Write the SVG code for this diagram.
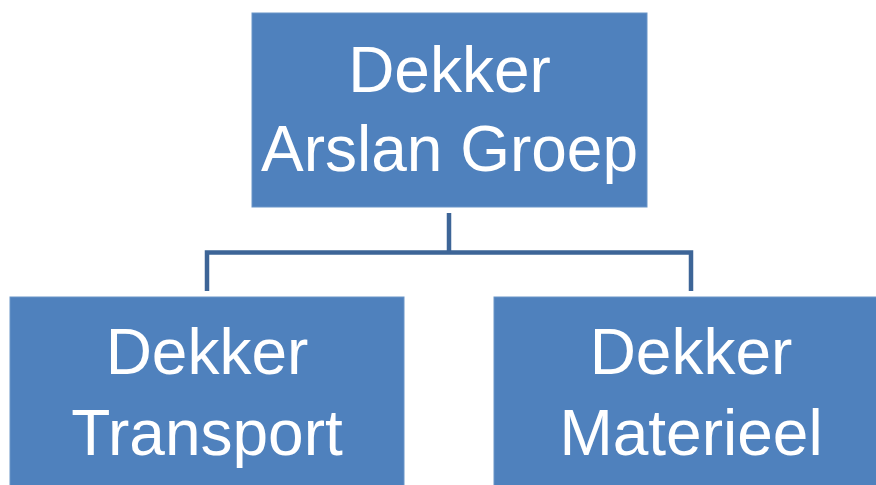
<svg xmlns="http://www.w3.org/2000/svg" width="876" height="485" viewBox="0 0 876 485">
<style>
.box{fill:#4F81BD;stroke:#6A95C8;stroke-width:1}
.t{font-family:"Liberation Sans","Open Sans",Arial,sans-serif;font-size:64px;fill:#FFFFFF;text-anchor:middle}
.c{fill:none;stroke:#3D6597;stroke-width:4.5}
</style>
<rect width="876" height="485" fill="#FFFFFF"/>
<g id="connectors">
<path class="c" d="M449 213 V252.5 M207 291 V252.5 H691 V291"/>
</g>
<g id="node-groep">
<rect class="box" x="252" y="13" width="395" height="194"/>
<text class="t" x="449.5" y="92">Dekker</text>
<text class="t" x="449.5" y="171">Arslan Groep</text>
</g>
<g id="node-transport">
<rect class="box" x="10" y="297" width="394" height="194"/>
<text class="t" x="207" y="374">Dekker</text>
<text class="t" x="207" y="455">Transport</text>
</g>
<g id="node-materieel">
<rect class="box" x="494" y="297" width="394" height="194"/>
<text class="t" x="691" y="374">Dekker</text>
<text class="t" x="691" y="455">Materieel</text>
</g>
</svg>
